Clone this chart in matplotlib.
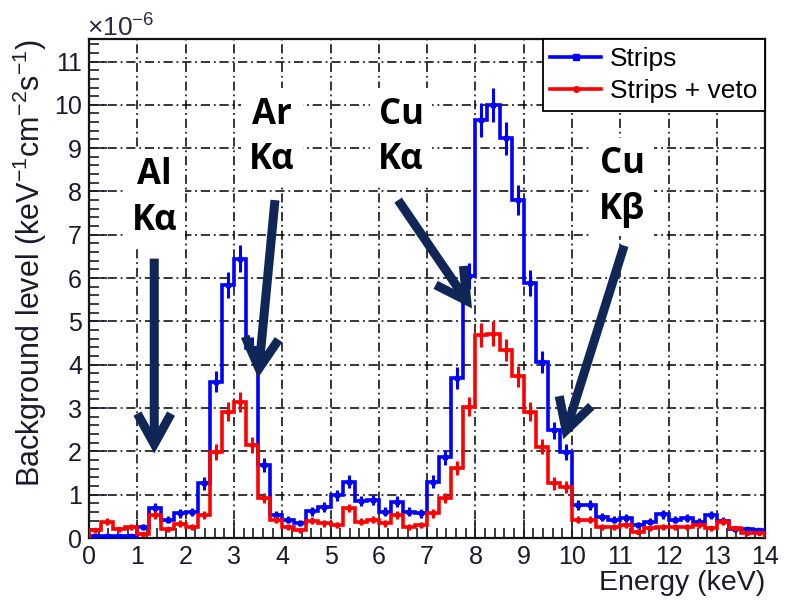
import matplotlib
matplotlib.use('Agg')
import matplotlib.pyplot as plt
from matplotlib.lines import Line2D
import numpy as np

plt.rcParams['font.family'] = ['Liberation Sans', 'DejaVu Sans']
plt.rcParams['mathtext.fontset'] = 'custom'
plt.rcParams['mathtext.rm'] = 'Liberation Sans'
plt.rcParams['mathtext.it'] = 'Liberation Sans'

# 0.25 keV bins from 0 to 14 keV
edges = np.arange(0, 14.01, 0.25)

strips = [0.04, 0.04, 0.04, 0.04, 0.25, 0.69, 0.42, 0.57, 0.60, 1.26,
          3.61, 5.85, 6.45, 4.38, 1.69, 0.53, 0.42, 0.34, 0.62, 0.72,
          0.99, 1.30, 0.86, 0.88, 0.61, 0.84, 0.61, 0.57, 1.30, 1.86,
          3.69, 6.05, 9.65, 10.0, 9.23, 7.80, 5.88, 4.07, 2.49, 1.99,
          0.76, 0.76, 0.49, 0.42, 0.46, 0.30, 0.38, 0.55, 0.42, 0.46,
          0.38, 0.53, 0.40, 0.20, 0.20, 0.18]
strips_err = [0.05, 0.05, 0.05, 0.05, 0.07, 0.11, 0.08, 0.10, 0.10, 0.14,
              0.24, 0.30, 0.32, 0.26, 0.16, 0.09, 0.08, 0.07, 0.10, 0.11,
              0.13, 0.15, 0.12, 0.12, 0.10, 0.12, 0.10, 0.10, 0.15, 0.18,
              0.25, 0.31, 0.39, 0.40, 0.38, 0.35, 0.30, 0.25, 0.20, 0.18,
              0.11, 0.11, 0.09, 0.08, 0.09, 0.07, 0.08, 0.10, 0.08, 0.09,
              0.08, 0.09, 0.08, 0.06, 0.06, 0.06]

veto = [0.18, 0.38, 0.20, 0.26, 0.10, 0.53, 0.20, 0.33, 0.26, 0.53,
        1.99, 2.92, 3.15, 2.15, 0.92, 0.42, 0.26, 0.18, 0.40, 0.34,
        0.30, 0.69, 0.38, 0.42, 0.34, 0.53, 0.26, 0.30, 0.57, 0.92,
        1.61, 3.03, 4.69, 4.72, 4.34, 3.73, 2.92, 2.11, 1.26, 1.18,
        0.42, 0.42, 0.26, 0.26, 0.30, 0.15, 0.22, 0.26, 0.26, 0.26,
        0.30, 0.22, 0.38, 0.22, 0.11, 0.11]
veto_err = [0.06, 0.08, 0.06, 0.07, 0.05, 0.09, 0.06, 0.08, 0.07, 0.09,
            0.18, 0.22, 0.23, 0.19, 0.12, 0.08, 0.07, 0.06, 0.08, 0.08,
            0.07, 0.10, 0.08, 0.08, 0.08, 0.09, 0.07, 0.07, 0.10, 0.12,
            0.16, 0.22, 0.27, 0.28, 0.26, 0.24, 0.22, 0.18, 0.14, 0.13,
            0.08, 0.08, 0.07, 0.07, 0.07, 0.05, 0.06, 0.07, 0.07, 0.07,
            0.07, 0.06, 0.08, 0.06, 0.04, 0.04]

# (label, text position, arrow start, arrow tip) in keV / 1e-6 units
labels = ['Al\nK\u03b1', 'Ar\nK\u03b1', 'Cu\nK\u03b1', 'Cu\nK\u03b2']
label_pos = [(1.35, 7.85), (3.79, 9.25), (6.46, 9.25), (11.04, 8.1)]
arrow_from = [(1.35, 6.45), (3.85, 7.8), (6.40, 7.8), (11.08, 6.75)]
arrow_to = [(1.35, 1.95), (3.50, 3.70), (7.93, 5.30), (9.82, 2.28)]

centers = 0.5 * (edges[:-1] + edges[1:])

fig = plt.figure(figsize=(7.88, 6.13), dpi=100)
ax = fig.add_axes([0.113, 0.1223, 0.858, 0.8141])

ax.grid(True, which='major', color='black', linestyle=(0, (6, 2.5, 1.2, 2.5)), lw=1.1, zorder=0)

ax.stairs(strips, edges, color='#0000ff', lw=2.6, zorder=3)
ax.errorbar(centers, strips, yerr=strips_err, fmt='s', color='#0000ff', ms=3.5,
            elinewidth=2.2, capsize=0, zorder=3)
ax.stairs(veto, edges, color='#ff0000', lw=2.6, zorder=4)
ax.errorbar(centers, veto, yerr=veto_err, fmt='o', color='#ff0000', ms=3,
            elinewidth=2.2, capsize=0, zorder=4)

ax.set_xlim(0, 14)
ax.set_ylim(0, 11.52)
ax.set_xticks(range(0, 15))
ax.set_yticks(range(0, 12))
ax.set_xticks(np.arange(0, 14.01, 0.2), minor=True)
ax.set_yticks(np.arange(0, 11.52, 0.2), minor=True)
ax.tick_params(which='both', direction='in', top=False, right=False,
               labelsize=18, colors='#1a1a2a', width=1.2)
ax.tick_params(which='major', length=13, pad=5)
ax.tick_params(which='minor', length=7)
for s in ax.spines.values():
    s.set_linewidth(1.6)
    s.set_color('#111111')

ax.set_xlabel('Energy (keV)', fontsize=20.5, color='#1a1a2a', loc='right', labelpad=1)
ax.set_ylabel(r'Background level (keV$^{-1}$cm$^{-2}$s$^{-1}$)', fontsize=22,
              color='#1a1a2a', loc='top', labelpad=4)
fig.text(0.110, 0.941, r'$\times10^{-6}$', fontsize=19, color='#2a2a40', va='baseline')

handles = [Line2D([], [], color='#0000ff', lw=2.6, marker='s', ms=5),
           Line2D([], [], color='#ff0000', lw=2.6, marker='o', ms=4)]
leg = ax.legend(handles, ['Strips', 'Strips + veto'], loc='upper right',
                fontsize=19, fancybox=False, framealpha=1, edgecolor='black',
                borderaxespad=0, handlelength=1.9, handletextpad=0.35,
                labelspacing=0.3, borderpad=0.3)
leg.get_frame().set_linewidth(1.3)
leg.set_zorder(6)

navy = '#0f2656'
for txt, p, a, b in zip(labels, label_pos, arrow_from, arrow_to):
    ax.text(p[0], p[1], txt, ha='center', va='center', fontsize=25,
            fontweight='bold', family=['Open Sans', 'DejaVu Sans'],
            linespacing=1.35, color='black', zorder=5,
            bbox=dict(facecolor='white', edgecolor='none', pad=6))
    ax.annotate('', xy=b, xytext=a,
                arrowprops=dict(arrowstyle='->,head_length=1.0,head_width=0.55',
                                color=navy, lw=6.5, mutation_scale=22,
                                shrinkA=0, shrinkB=0, joinstyle='miter',
                                capstyle='butt'),
                zorder=7)

fig.savefig('out.png', dpi=100)
